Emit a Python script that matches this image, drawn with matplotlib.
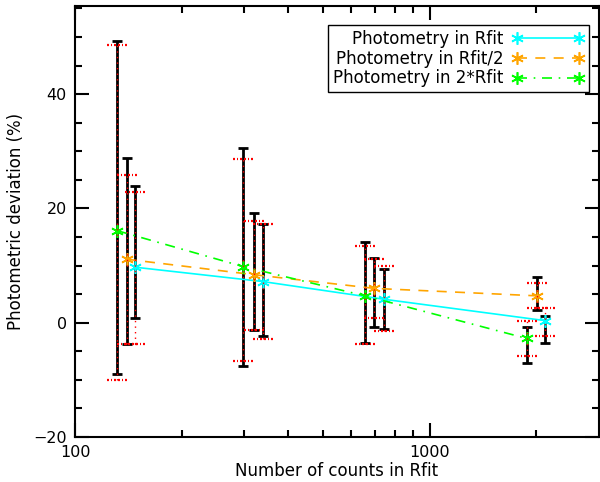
import numpy as np
import matplotlib.pyplot as plt
from matplotlib.path import Path
from matplotlib.ticker import FixedLocator, MultipleLocator, NullFormatter, FuncFormatter

# === Data ===
labels = ["Photometry in Rfit", "Photometry in Rfit/2", "Photometry in 2*Rfit"]

counts_rfit = [148, 338, 743, 2121]
counts_half = [140, 319, 699, 2002]
counts_double = [131.5, 298.5, 657, 1877]

dev_rfit = [9.7, 7.2, 4.1, 0.35]
dev_half = [11.1, 8.4, 6.0, 4.7]
dev_double = [16.1, 9.8, 4.7, -2.75]

# black error bars: upper / lower ends
hi_rfit = [24.0, 17.3, 9.35, 1.2]
lo_rfit = [0.75, -2.4, -1.1, -3.6]
hi_half = [28.8, 19.2, 11.3, 7.95]
lo_half = [-3.7, -1.2, -0.8, 2.3]
hi_double = [49.3, 30.6, 14.1, -0.8]
lo_double = [-8.9, -7.5, -3.6, -7.0]

# red dotted error bars: upper / lower ends
rhi_rfit = [22.9, 17.3, 9.9, 2.6]
rlo_rfit = [-3.8, -2.9, -1.5, -2.4]
rhi_half = [25.8, 17.8, 11.1, 7.0]
rlo_half = [-3.8, -1.2, 0.75, 2.5]
rhi_double = [48.6, 28.7, 13.5, 0.35]
rlo_double = [-10.0, -6.7, -3.8, -5.8]

colors = ["#00ffff", "#ffa500", "#00ff00"]
styles = ["-", (0, (6, 5)), (0, (6, 4, 1, 4))]

series = [
    (counts_rfit, dev_rfit, hi_rfit, lo_rfit, rhi_rfit, rlo_rfit),
    (counts_half, dev_half, hi_half, lo_half, rhi_half, rlo_half),
    (counts_double, dev_double, hi_double, lo_double, rhi_double, rlo_double),
]

# dotted cap marker for the red bars
starts = np.linspace(-1, 0.85, 6)
cap_verts = []
cap_codes = []
for s in starts:
    cap_verts += [(s, 0), (s + 0.15, 0)]
    cap_codes += [Path.MOVETO, Path.LINETO]
dotted_cap = Path(cap_verts, cap_codes)

plt.rcParams['font.family'] = ['DejaVu Sans']
fig = plt.figure(figsize=(6, 4.82), dpi=100)
ax = fig.add_axes([0.125, 0.0934, 0.873, 0.894])

for (x, y, hi, lo, rhi, rlo), color, ls, label in zip(series, colors, styles, labels):
    x = np.array(x)
    y = np.array(y)
    ax.plot(x, y, color=color, linestyle=ls, lw=1.2, marker=(6, 2, 0),
            markersize=9, markeredgewidth=1.2, label=label, zorder=3)
    ax.errorbar(x, y, yerr=[y - np.array(lo), np.array(hi) - y], fmt='none',
                ecolor='black', elinewidth=2, capsize=3.5, capthick=2, zorder=2)
    ax.vlines(x, rlo, rhi, colors='red', linestyles=(0, (1, 3)), lw=1.0, zorder=4)
    ax.plot(x, rhi, linestyle='none', marker=dotted_cap, markersize=14,
            markeredgewidth=1.6, color='red', zorder=4)
    ax.plot(x, rlo, linestyle='none', marker=dotted_cap, markersize=14,
            markeredgewidth=1.6, color='red', zorder=4)

ax.set_xscale('log')
ax.set_xlim(100, 3000)
ax.set_ylim(-20, 55.4)

ax.xaxis.set_major_locator(FixedLocator([100, 1000]))
ax.xaxis.set_major_formatter(FuncFormatter(lambda v, p: f"{v:.0f}"))
ax.xaxis.set_minor_locator(FixedLocator([200, 300, 400, 500, 600, 700, 800, 900, 2000]))
ax.xaxis.set_minor_formatter(NullFormatter())
ax.yaxis.set_major_locator(MultipleLocator(20))
ax.yaxis.set_minor_locator(MultipleLocator(5))

ax.tick_params(which='both', direction='in', top=True, right=True, width=1.5,
               labelsize=11.5, pad=6)
ax.tick_params(which='major', length=10)
ax.tick_params(which='minor', length=5)
for sp in ax.spines.values():
    sp.set_linewidth(1.5)

ax.set_xlabel("Number of counts in Rfit", fontsize=12, labelpad=1)
ax.set_ylabel("Photometric deviation (%)", fontsize=12, labelpad=6)

leg = ax.legend(loc='upper right', bbox_to_anchor=(0.981, 0.956), borderaxespad=0,
                markerfirst=False, numpoints=2, handlelength=4.3, fontsize=12,
                labelspacing=0.1, fancybox=False, edgecolor='black', framealpha=1,
                borderpad=0.3, handletextpad=0.5)
leg.get_frame().set_linewidth(1.0)

plt.savefig("out.png", dpi=100)
